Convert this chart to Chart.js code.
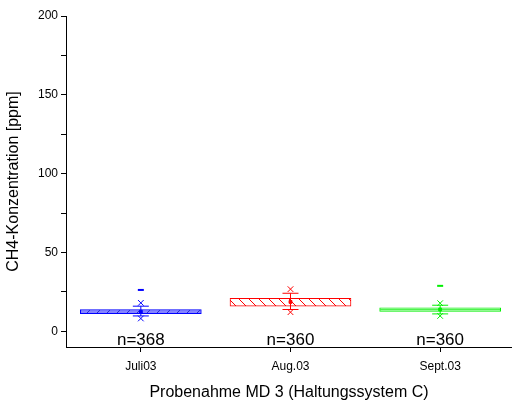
<!DOCTYPE html>
<html>
<head>
<meta charset="utf-8">
<script src="https://cdn.jsdelivr.net/npm/chart.js@4/dist/chart.umd.min.js"></script>
<style>
	html, body { margin: 0; padding: 0; background: #fff; }
	#wrap { width: 512px; height: 403px; }
</style>
</head>
<body>
<div id="wrap"><canvas id="chart" width="512" height="403"></canvas></div>
<script>
const categories = ['Juli03', 'Aug.03', 'Sept.03'];
const counts = ['n=368', 'n=360', 'n=360'];
const q1 = [11.2, 15.9, 12.5];
const q3 = [13.8, 20.8, 14.8];
const median = [null, null, 13.6];
const mean = [12.4, 18.6, 13.8];
const whiskLow = [9.7, 13.8, 11.0];
const whiskHigh = [15.9, 24.1, 16.5];
const minVal = [8.1, 12.1, 9.7];
const maxVal = [18.0, 26.7, 17.8];
const p99 = [26.2, null, 28.8];
const yTicks = [0, 25, 50, 75, 100, 125, 150, 175, 200];

const colors = ['#0000ff', '#ff0000', '#00f000'];
const FONT = "'Liberation Sans', Arial, sans-serif";

const canvas = document.getElementById('chart');
const ctx = canvas.getContext('2d');

// hatch pattern for the boxes
function hatch(bg, line, dir) {
	const c = document.createElement('canvas');
	c.width = 10;
	c.height = 10;
	const x = c.getContext('2d');
	x.fillStyle = bg;
	x.fillRect(0, 0, 10, 10);
	if (line) {
		x.strokeStyle = line;
		x.lineWidth = 1;
		x.beginPath();
		if (dir > 0) {
			x.moveTo(-1, 11); x.lineTo(11, -1);
		} else {
			x.moveTo(-1, -1); x.lineTo(11, 11);
		}
		x.stroke();
	}
	return ctx.createPattern(c, 'repeat');
}

const fills = [
	hatch('#8585ff', '#2a2ad0', 1),
	hatch('#ffffff', '#ff0000', -1),
	hatch('#ffffff', null, 0),
];

const datasets = [];

datasets.push({
	type: 'bar',
	data: categories.map((c, i) => ({x: i, y: [q1[i], q3[i]]})),
	backgroundColor: fills,
	borderColor: colors,
	borderWidth: 1,
	borderSkipped: false,
	barThickness: 121,
	order: 10,
});

categories.forEach((c, i) => {
	datasets.push({
		type: 'line',
		data: [{x: i, y: whiskLow[i]}, {x: i, y: whiskHigh[i]}],
		borderColor: colors[i],
		borderWidth: 1,
		pointRadius: 0,
		order: 5,
	});
});

function pts(arrs) {
	const out = [];
	arrs.forEach(a => a.forEach((v, i) => {
		if (v !== null) out.push({x: i, y: v, c: colors[i]});
	}));
	return out;
}

function pointSet(arrs, style, radius, width) {
	const data = pts(arrs);
	return {
		type: 'scatter',
		data: data,
		pointStyle: style,
		pointRadius: radius,
		pointBorderWidth: width,
		pointBorderColor: data.map(p => p.c),
		pointBackgroundColor: data.map(p => p.c),
		showLine: false,
		order: 1,
	};
}

datasets.push(pointSet([whiskLow, whiskHigh], 'line', 8, 1));
datasets.push(pointSet([median], 'line', 60, 1));
datasets.push(pointSet([minVal, maxVal], 'crossRot', 4, 1));
datasets.push(pointSet([p99], 'line', 3, 2));
datasets.push(pointSet([mean], 'rect', 2, 1));

const countLabels = {
	id: 'countLabels',
	afterDatasetsDraw(chart) {
		const c = chart.ctx;
		c.save();
		c.font = '17px ' + FONT;
		c.fillStyle = '#000';
		c.textAlign = 'center';
		c.textBaseline = 'middle';
		counts.forEach((t, i) => {
			c.fillText(t, chart.scales.x.getPixelForValue(i), chart.scales.y.getPixelForValue(-5.5));
		});
		c.restore();
	}
};

new Chart(canvas, {
	type: 'bar',
	data: {datasets: datasets},
	plugins: [countLabels],
	options: {
		responsive: false,
		animation: false,
		layout: {autoPadding: false, padding: {top: 16, right: 0, left: 0, bottom: 0}},
		plugins: {
			legend: {display: false},
			tooltip: {enabled: false},
		},
		scales: {
			x: {
				type: 'linear',
				offset: false,
				min: -0.5,
				max: 2.48,
				afterBuildTicks: (scale) => {
					scale.ticks = categories.map((c, i) => ({value: i}));
				},
				afterFit: (scale) => { scale.height = 56; },
				ticks: {
					autoSkip: false,
					maxRotation: 0,
					padding: 7,
					color: '#000',
					font: {family: FONT, size: 12},
					callback: (v) => categories[v],
				},
				grid: {offset: false, drawOnChartArea: false, tickLength: 5, color: '#000'},
				border: {color: '#000', width: 1},
				title: {
					display: true,
					text: 'Probenahme MD 3 (Haltungssystem C)',
					color: '#000',
					font: {family: FONT, size: 16},
					padding: {top: 2, bottom: 1},
				},
			},
			y: {
				min: -10,
				max: 200,
				afterBuildTicks: (scale) => {
					scale.ticks = yTicks.map(v => ({value: v}));
				},
				afterFit: (scale) => { scale.width = 66; },
				ticks: {
					padding: 3,
					color: '#000',
					font: {family: FONT, size: 12},
					callback: (v) => (v % 50 === 0 ? v : ''),
				},
				grid: {drawOnChartArea: false, tickLength: 5, color: '#000'},
				border: {color: '#000', width: 1},
				title: {
					display: true,
					text: 'CH4-Konzentration [ppm]',
					color: '#000',
					font: {family: FONT, size: 16},
					padding: {top: 4, bottom: 4},
				},
			},
		},
	},
});
</script>
</body>
</html>
